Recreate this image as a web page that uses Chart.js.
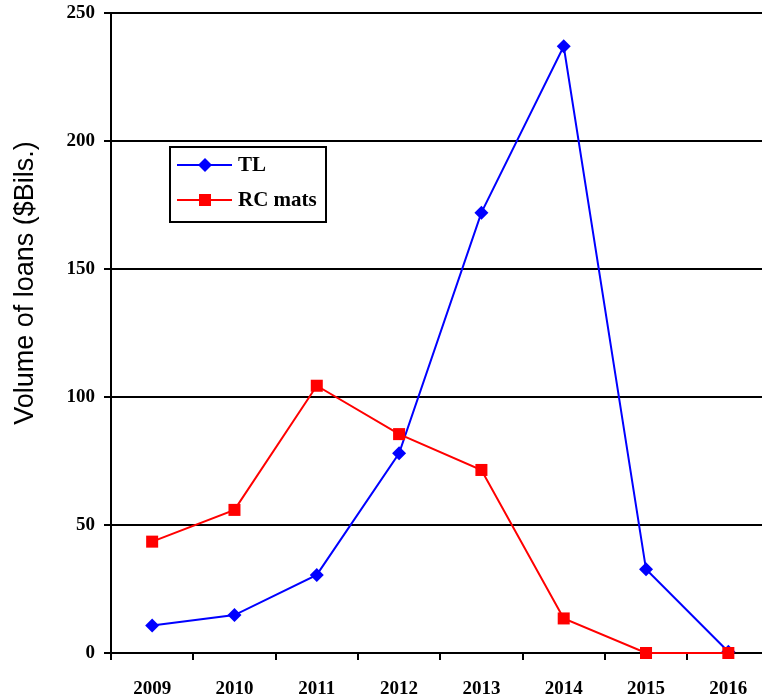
<!DOCTYPE html>
<html>
<head>
<meta charset="utf-8">
<script src="https://cdn.jsdelivr.net/npm/chart.js@4/dist/chart.umd.min.js"></script>
<style>
  html, body { margin: 0; padding: 0; background: #fff; overflow: hidden; }
  #wrap { width: 778px; height: 697px; }
</style>
</head>
<body>
<div id="wrap"><canvas id="c" width="778" height="697"></canvas></div>
<script>
// Loan volumes by year, $ billions
const years = ['2009', '2010', '2011', '2012', '2013', '2014', '2015', '2016'];
const termLoans = [10.7, 14.8, 30.5, 78, 172, 237, 32.7, 0.5];
const rcMaturities = [43.5, 55.9, 104.4, 85.5, 71.5, 13.5, 0, 0];
const yTicks = [0, 50, 100, 150, 200, 250];

const serif = '"Liberation Serif", "Times New Roman", serif';
const sans = '"Liberation Sans", Arial, sans-serif';

// Boxed legend inside the plot, plus the rotated axis title
const overlay = {
  id: 'overlay',
  afterDraw(chart) {
    const ctx = chart.ctx;
    ctx.save();
    // legend box
    const bx = 170, by = 147, bw = 156, bh = 75;
    ctx.fillStyle = '#fff';
    ctx.fillRect(bx, by, bw, bh);
    ctx.strokeStyle = '#000';
    ctx.lineWidth = 2;
    ctx.strokeRect(bx, by, bw, bh);
    const items = [chart.data.datasets[0], chart.data.datasets[1]];
    const rows = [165, 200];
    items.forEach((ds, i) => {
      const y = rows[i];
      ctx.strokeStyle = ds.borderColor;
      ctx.lineWidth = 2;
      ctx.beginPath();
      ctx.moveTo(177, y);
      ctx.lineTo(232, y);
      ctx.stroke();
      ctx.fillStyle = ds.backgroundColor;
      ctx.beginPath();
      if (ds.pointStyle === 'rectRot') {
        ctx.moveTo(205, y - 7); ctx.lineTo(212, y); ctx.lineTo(205, y + 7); ctx.lineTo(198, y);
      } else {
        ctx.rect(199, y - 6, 12, 12);
      }
      ctx.closePath();
      ctx.fill();
      ctx.fillStyle = '#000';
      ctx.font = 'bold 21px ' + serif;
      ctx.textBaseline = 'middle';
      ctx.textAlign = 'left';
      ctx.fillText(ds.label, 238, y + 1);
    });
    // y axis title
    ctx.translate(26, 283);
    ctx.rotate(-Math.PI / 2);
    ctx.fillStyle = '#000';
    ctx.font = '27px ' + sans;
    ctx.textAlign = 'center';
    ctx.textBaseline = 'middle';
    ctx.fillText('Volume of loans ($Bils.)', 0, 0);
    ctx.restore();
  }
};

new Chart(document.getElementById('c'), {
  type: 'line',
  data: {
    labels: years,
    datasets: [
      {
        label: 'TL',
        data: termLoans,
        borderColor: '#0000ff',
        backgroundColor: '#0000ff',
        borderWidth: 2,
        pointStyle: 'rectRot',
        pointRadius: 7,
        pointHoverRadius: 7,
        pointBorderWidth: 0,
        tension: 0,
        clip: false,
        order: 1
      },
      {
        label: 'RC mats',
        data: rcMaturities,
        borderColor: '#ff0000',
        backgroundColor: '#ff0000',
        borderWidth: 2,
        pointStyle: 'rect',
        pointRadius: 8.5,
        pointHoverRadius: 8.5,
        pointBorderWidth: 0,
        tension: 0,
        clip: false,
        order: 0
      }
    ]
  },
  options: {
    responsive: false,
    animation: false,
    layout: { padding: { left: 0, top: 13, right: 0, bottom: 0 } },
    plugins: {
      legend: { display: false },
      tooltip: { enabled: false },
      title: { display: false }
    },
    scales: {
      x: {
        offset: true,
        grid: {
          offset: true,
          drawOnChartArea: false,
          drawTicks: true,
          tickLength: 7,
          color: '#000',
          lineWidth: 2
        },
        border: { color: '#000', width: 2 },
        ticks: {
          color: '#000',
          font: { family: serif, size: 19, weight: 'bold' },
          padding: 18,
          maxRotation: 0,
          autoSkip: false
        },
        afterFit(scale) { scale.height = 44; }
      },
      y: {
        min: 0,
        max: 250,
        afterBuildTicks(scale) { scale.ticks = yTicks.map(v => ({ value: v })); },
        grid: {
          color: '#000',
          lineWidth: 2,
          tickLength: 7
        },
        border: { color: '#000', width: 2 },
        ticks: {
          color: '#000',
          font: { family: serif, size: 19, weight: 'bold' },
          padding: 9
        },
        afterFit(scale) {
          scale.width = 111;
          scale.paddingTop = 0;
          scale.paddingBottom = 0;
        }
      }
    }
  },
  plugins: [overlay]
});
</script>
</body>
</html>
